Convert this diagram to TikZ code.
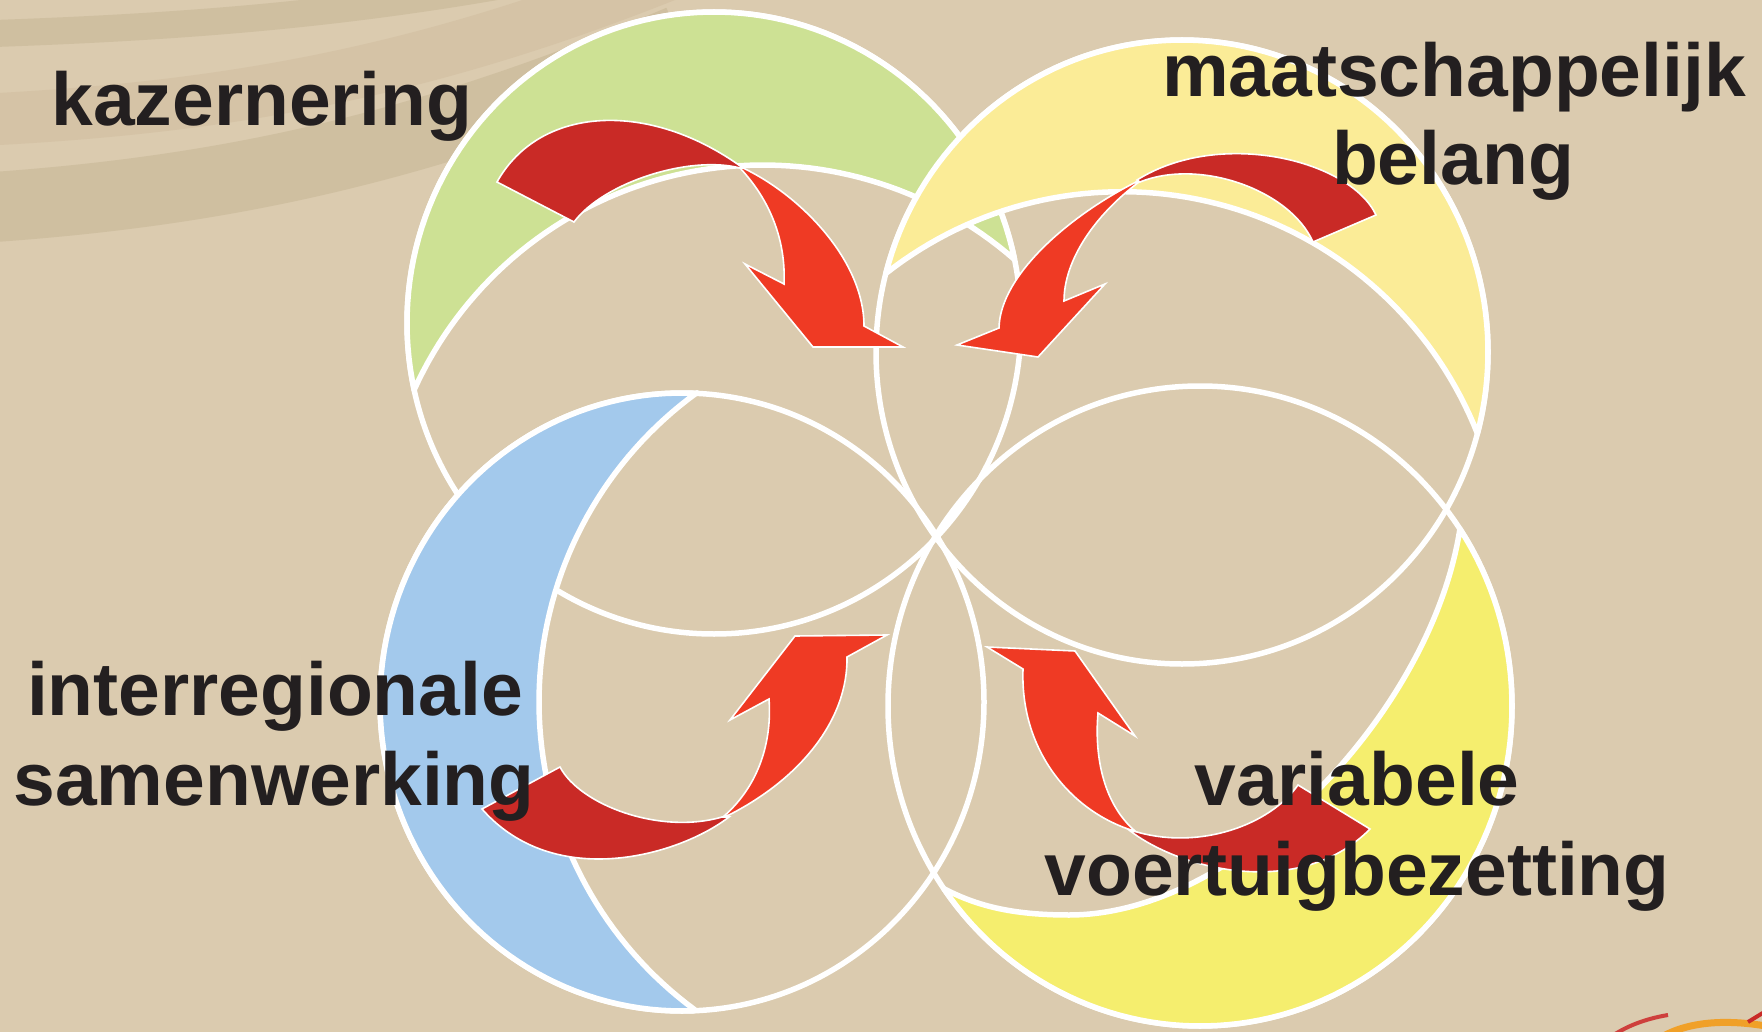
\documentclass[tikz,border=0pt]{standalone}
\usepackage{fontspec}
\setmainfont{Liberation Sans}
\definecolor{bg}{RGB}{219,203,175}
\definecolor{ringc}{RGB}{207,191,160}
\definecolor{ringm}{RGB}{213,195,166}
\definecolor{cgreen}{RGB}{205,225,148}
\definecolor{cylight}{RGB}{251,236,151}
\definecolor{cblue}{RGB}{163,201,236}
\definecolor{cyellow}{RGB}{245,238,110}
\definecolor{rdark}{RGB}{201,42,38}
\definecolor{rbright}{RGB}{239,58,36}
\definecolor{txt}{RGB}{35,31,32}
\definecolor{logoorange}{RGB}{240,160,40}
\begin{document}
\begin{tikzpicture}[x=1pt,y=-1pt,
  ringline/.style={draw=white, line width=5.5pt},
  crescent/.style={draw=white, line width=5.5pt, line join=round},
  darkpart/.style={fill=rdark, draw=white, line width=1.6pt, line join=miter},
  brightpart/.style={fill=rbright, draw=white, line width=1.6pt, line join=miter},
  txtlab/.style={text=txt, font=\fontsize{75}{88}\selectfont\bfseries, inner sep=0pt, anchor=base}
]
\path[use as bounding box] (0,0) rectangle (1762,1032);
\fill[bg] (0,0) rectangle (1762,1032);
% background bands
\begin{scope}
\clip (0,0) rectangle (1762,1032);
\draw[ringc, line width=27pt] (-20,34) .. controls (250,25) and (450,5) .. (720,-60);
\draw[ringm, line width=52pt] (-20,120) .. controls (220,108) and (420,75) .. (680,-30);
\draw[ringc, line width=70pt] (-20,208) .. controls (220,192) and (420,150) .. (680,40);
% logo fragment
\draw[rdark!90, line width=4pt] (1612,1036) .. controls (1630,1024) and (1650,1018) .. (1668,1015);
\draw[logoorange, line width=7pt] (1660,1038) .. controls (1690,1020) and (1730,1020) .. (1766,1026);
\draw[rdark, line width=4pt] (1748,1022) -- (1766,1011);
\end{scope}
% four rings
\draw[ringline] (714,323) ellipse[x radius=307pt, y radius=311pt];
\draw[ringline] (1182,352) ellipse[x radius=306pt, y radius=312pt];
\draw[ringline] (682,702) ellipse[x radius=302pt, y radius=309pt];
\draw[ringline] (1200,706) ellipse[x radius=312pt, y radius=320pt];
% crescents
\path[crescent, fill=cgreen]
  plot[domain=167.5:348.1, samples=90, variable=\t] ({714+307*cos(\t)},{323+311*sin(\t)})
  -- plot[domain=0:1, samples=70, variable=\t] ({762.75+382.7*cos(311.04-106.74*\t)},{547.7+382.7*sin(311.04-106.74*\t)}) -- cycle;
\path[crescent, fill=cblue]
  plot[domain=87.6:272.9, samples=90, variable=\t] ({682+302*cos(\t)},{702+309*sin(\t)})
  -- plot[domain=0:1, samples=70, variable=\t] ({921+382*cos(234.06-107.82*\t)},{702+382*sin(234.06-107.82*\t)}) -- cycle;
\path[crescent, fill=cyellow]
  plot[domain=-33.6:145.2, samples=90, variable=\t] ({1200+312*cos(\t)},{706+320*sin(\t)})
  .. controls (975,905) and (1010,915) .. (1069,915)
  .. controls (1240,915) and (1432,710) .. (1459.9,528.9) -- cycle;
\path[crescent, fill=cylight]
  plot[domain=194.6:375.1, samples=90, variable=\t] ({1182+306*cos(\t)},{352+312*sin(\t)})
  -- plot[domain=0:1, samples=70, variable=\t] ({1122+382.1*cos(338.43-106.59*\t)},{573.8+382.1*sin(338.43-106.59*\t)}) -- cycle;
% arrow top-left
\path[darkpart] (497,182) -- (574,222) .. controls (604,182) and (690,155) .. (740,168)
  -- (743,168) .. controls (650,100) and (540,105) .. (497,182) -- cycle;
\path[brightpart] (743,168) .. controls (800,195) and (864,260) .. (864,326)
  -- (903,347) -- (813,347) -- (745,264) -- (784,284)
  .. controls (786,240) and (770,200) .. (740,168) -- cycle;
% arrow top-right
\path[darkpart] (1376,215) -- (1313,242) .. controls (1290,190) and (1200,158) .. (1140,182)
  -- (1137,180) .. controls (1220,128) and (1350,160) .. (1376,215) -- cycle;
\path[brightpart] (1138,181) .. controls (1070,215) and (1000,275) .. (999,328)
  -- (957,345) -- (1038,357) -- (1105,284) -- (1064,301)
  .. controls (1064,260) and (1095,215) .. (1139,182) -- cycle;
% arrow bottom-left
\path[darkpart] (482,809) -- (560,767) .. controls (580,805) and (660,835) .. (722,817)
  -- (729,817) .. controls (680,855) and (555,892) .. (482,809) -- cycle;
\path[brightpart] (725,817) .. controls (800,780) and (848,720) .. (847,657)
  -- (887,635) -- (795,636) -- (730,720) -- (769,699)
  .. controls (772,740) and (760,785) .. (723,817) -- cycle;
% arrow bottom-right
\path[darkpart] (1370,829) -- (1298,785) .. controls (1270,825) and (1200,850) .. (1137,832)
  -- (1129,830) .. controls (1180,870) and (1300,900) .. (1370,829) -- cycle;
\path[brightpart] (987,647) -- (1075,651) -- (1135,736) -- (1098,713)
  .. controls (1094,760) and (1105,805) .. (1135,831)
  -- (1131,830) .. controls (1070,810) and (1020,750) .. (1023,669) -- cycle;
% labels
\node[txtlab] (kaz) at (262,126) {kazernering};
\node[txtlab] (maat) at (1454,97) {maatschappelijk};
\node[txtlab] (bel) at (1453,185) {belang};
\node[txtlab] (inter) at (275,715) {interregionale};
\node[txtlab] (samen) at (274,805) {samenwerking};
\node[txtlab] (vari) at (1357,805) {variabele};
\node[txtlab] (voer) at (1357,895) {voertuigbezetting};
\end{tikzpicture}
\end{document}
